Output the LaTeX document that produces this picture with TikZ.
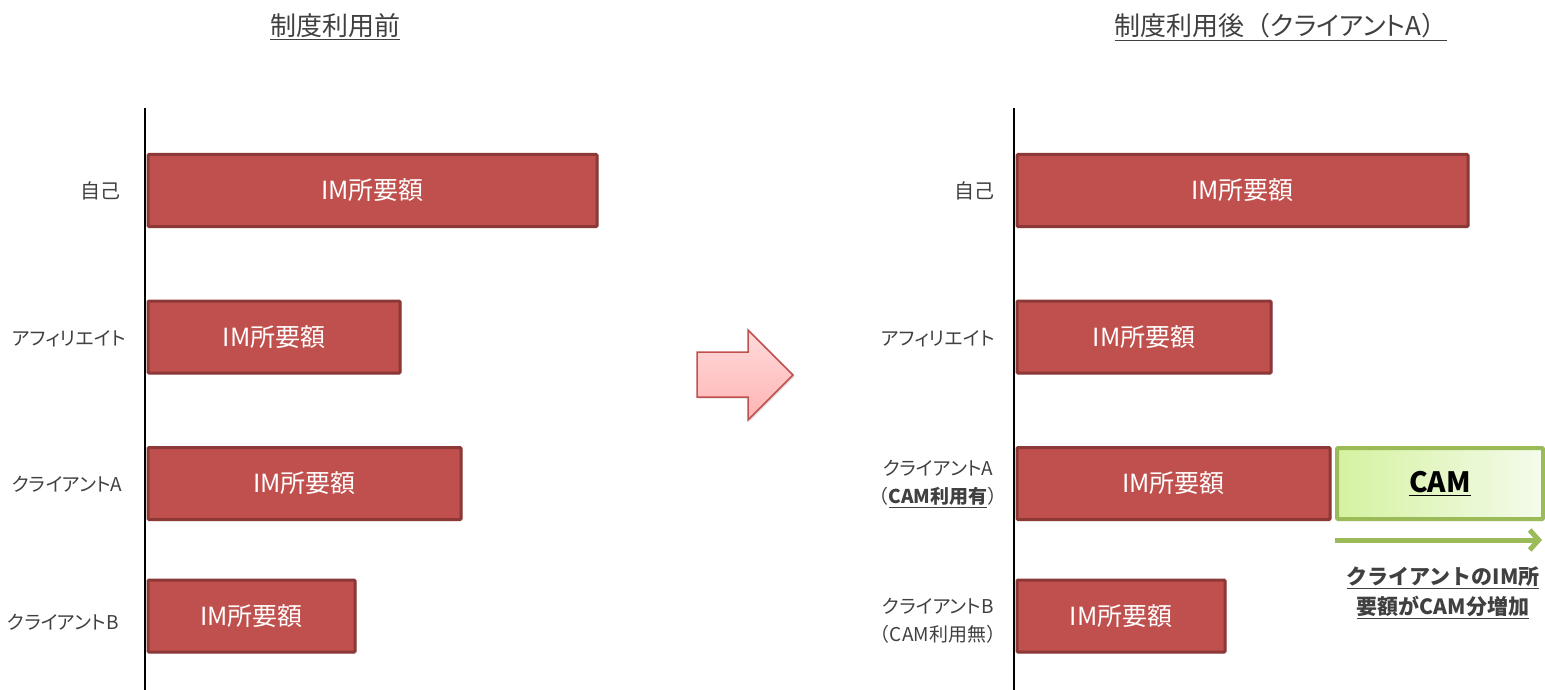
\documentclass[tikz,border=0pt]{standalone}
\usepackage{fontspec}
\setmainfont[RawFeature=+palt]{Noto Sans CJK JP}
\newfontfamily\jpwide{Noto Sans CJK JP}
\usetikzlibrary{arrows.meta,shadows}
\definecolor{barfill}{HTML}{C0504D}
\definecolor{barline}{HTML}{8C3836}
\definecolor{camline}{HTML}{9BBB59}
\definecolor{camleft}{HTML}{D5F2A0}
\definecolor{camright}{HTML}{F4FBEC}
\definecolor{txtgray}{HTML}{404040}
\definecolor{pinktop}{HTML}{FFDADA}
\definecolor{pinkbot}{HTML}{FFB4B4}
\tikzset{
  imbar/.style={draw=barline, line width=3pt, fill=barfill, rounded corners=1pt,
    minimum height=72pt, inner sep=0pt, anchor=west, text=white,
    font=\fontsize{25}{28}\selectfont,
    drop shadow={shadow xshift=1.5pt, shadow yshift=-1.5pt, opacity=0.25}},
  rowlabel/.style={text=txtgray, font=\fontsize{19}{28}\selectfont, align=center},
  header/.style={text=txtgray, font=\fontsize{26}{28}\selectfont}
}
\begin{document}
\begin{tikzpicture}[x=1pt, y=-1pt]
    \useasboundingbox (0,0) rectangle (1545,690);

    % headers
    \node[header] (hdrL) at (335,27) {\underline{制度利用前}};
    \node[header] (hdrR) at (1281,27) {\underline{制度利用後{\jpwide（}クライアントA{\jpwide）}}};

    % axes
    \coordinate (axLtop) at (145,108);
    \coordinate (axLbot) at (145,690);
    \coordinate (axRtop) at (1014,108);
    \coordinate (axRbot) at (1014,690);
    \draw[line width=1.5pt] (axLtop) -- (axLbot);
    \draw[line width=1.5pt] (axRtop) -- (axRbot);

    % before
    \node[imbar, minimum width=449pt] (selfL) at (146.5,190.5) {IM所要額};
    \node[imbar, minimum width=252pt] (affL)  at (146.5,337)   {IM所要額};
    \node[imbar, minimum width=313pt] (cliAL) at (146.5,483.5) {IM所要額};
    \node[imbar, minimum width=207pt] (cliBL) at (146.5,616)   {IM所要額};

    \node[rowlabel, anchor=east, font=\fontsize{20}{28}\selectfont] (labSelfL) at (124,191) {自己};
    \node[rowlabel, anchor=east] (labAffL)  at (129,339) {アフィリエイト};
    \node[rowlabel, anchor=east] (labCliAL) at (126,484) {クライアントA};
    \node[rowlabel, anchor=east] (labCliBL) at (122,622) {クライアントB};

    % block arrow
    \draw[draw=barfill, line width=1.5pt, top color=pinktop, bottom color=pinkbot,
          drop shadow={shadow xshift=1.5pt, shadow yshift=-1.5pt, opacity=0.25}]
      (697,352) -- (748,352) -- (748,330) -- (793,375) -- (748,420)
      -- (748,397) -- (697,397) -- cycle;

    % after
    \node[imbar, minimum width=451pt] (selfR) at (1015.5,190.5) {IM所要額};
    \node[imbar, minimum width=254pt] (affR)  at (1015.5,337)   {IM所要額};
    \node[imbar, minimum width=313pt] (cliAR) at (1015.5,483.5) {IM所要額};
    \node[imbar, minimum width=208pt] (cliBR) at (1015.5,616)   {IM所要額};
    \node[imbar, draw=camline, line width=4pt, left color=camleft, right color=camright,
          minimum width=206pt, minimum height=71pt, text=black,
          font=\fontsize{28}{30}\selectfont\bfseries] (cam) at (1335,483.5) {\underline{CAM}};

    \node[rowlabel, anchor=east, font=\fontsize{20}{28}\selectfont] (labSelfR) at (998,191) {自己};
    \node[rowlabel, anchor=east] (labAffR)  at (998,339) {アフィリエイト};
    \node[rowlabel] (labCliAR) at (938,484) {クライアントA\\{\jpwide（\underline{\textbf{CAM利用有}}）}};
    \node[rowlabel] (labCliBR) at (938,621) {クライアントB\\{\jpwide（CAM利用無）}};

    % increase
    \coordinate (incA) at (1335,540);
    \coordinate (incB) at (1542,540);
    \draw[camline, line width=5pt, -{Straight Barb[length=9pt, width=20pt]}] (incA) -- (incB);
    \node[text=txtgray, align=center, font=\jpwide\fontsize{21}{30}\selectfont\bfseries]
      (incNote) at (1443,593) {\underline{クライアントのIM所}\\\underline{要額がCAM分増加}};
\end{tikzpicture}
\end{document}
